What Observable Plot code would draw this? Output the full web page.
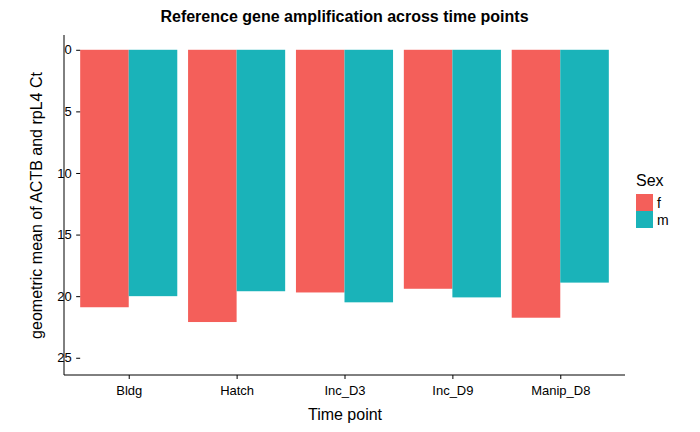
<!DOCTYPE html>
<html><head>
<meta charset="utf-8">
<script src="https://cdn.jsdelivr.net/npm/d3@7"></script>
<script src="https://cdn.jsdelivr.net/npm/@observablehq/plot@0.6"></script>
<style>
body{margin:0;background:#fff;font-family:"Liberation Sans",Arial,sans-serif;}
#wrap{position:relative;width:700px;height:432px;}
#title{position:absolute;top:8px;left:64px;width:561px;text-align:center;font-weight:bold;font-size:16px;}
#chart{position:absolute;top:30px;left:0;}
#legend{position:absolute;left:636px;top:172px;font-size:16px;}
.k{display:flex;align-items:center;height:17px;font-size:14px;margin-top:0px}
.k span{display:inline-block;width:17px;height:17px;margin-right:4px}
</style></head><body>
<div id="wrap">
<div id="title">Reference gene amplification across time points</div>
<div id="chart"></div>
<div id="legend"><div style="margin-bottom:4px">Sex</div>
<div class="k"><span style="background:#F45F5A"></span>f</div>
<div class="k"><span style="background:#1AB3B9"></span>m</div></div>
</div>
<script>
const timePoints=["Bldg","Hatch","Inc_D3","Inc_D9","Manip_D8"];
const sexes=["f","m"];
const fVals=[20.9,22.1,19.7,19.4,21.75];
const mVals=[20.0,19.6,20.5,20.1,18.9];
const colors=["#F45F5A","#1AB3B9"];
const yTicks=[0,5,10,15,20,25];
const data=[];
timePoints.forEach((t,i)=>{data.push({t,sex:"f",v:fVals[i]});data.push({t,sex:"m",v:mVals[i]});});
const W=700,H=402,ml=64,mr=75,mt=5,mb=57;
const svg=Plot.plot({
  width:W,height:H,marginLeft:ml,marginRight:mr,marginTop:mt,marginBottom:mb,
  style:{fontFamily:"Liberation Sans, Arial, sans-serif",fontSize:"13px",color:"#000"},
  fx:{domain:timePoints,paddingInner:0.1,paddingOuter:0.15,round:false,label:"Time point"},
  x:{domain:sexes,padding:0,round:false,axis:null},
  y:{domain:[-1.2,26.4],reverse:true,label:"geometric mean of ACTB and rpL4 Ct"},
  color:{domain:sexes,range:colors},
  marks:[
    Plot.barY(data,{fx:"t",x:"sex",y1:0,y2:"v",fill:"sex",inset:0}),
    Plot.axisFx({anchor:"bottom",tickSize:4,tickPadding:6,fontSize:13,label:"Time point",labelAnchor:"center",labelOffset:44,labelArrow:"none"}),
    Plot.axisY(yTicks,{tickSize:4,tickPadding:5,fontSize:13,label:"geometric mean of ACTB and rpL4 Ct",labelAnchor:"center",labelOffset:50,labelArrow:"none"})
  ]
});
document.getElementById("chart").appendChild(svg);
const s=d3.select(svg);
s.append("line").attr("x1",ml).attr("x2",ml).attr("y1",mt).attr("y2",H-mb).attr("stroke","#000");
s.append("line").attr("x1",ml).attr("x2",W-mr).attr("y1",H-mb).attr("y2",H-mb).attr("stroke","#000");
s.selectAll("g[aria-label='fx-axis label'] text, g[aria-label='y-axis label'] text").style("font-size","16px");
</script>
</body></html>
